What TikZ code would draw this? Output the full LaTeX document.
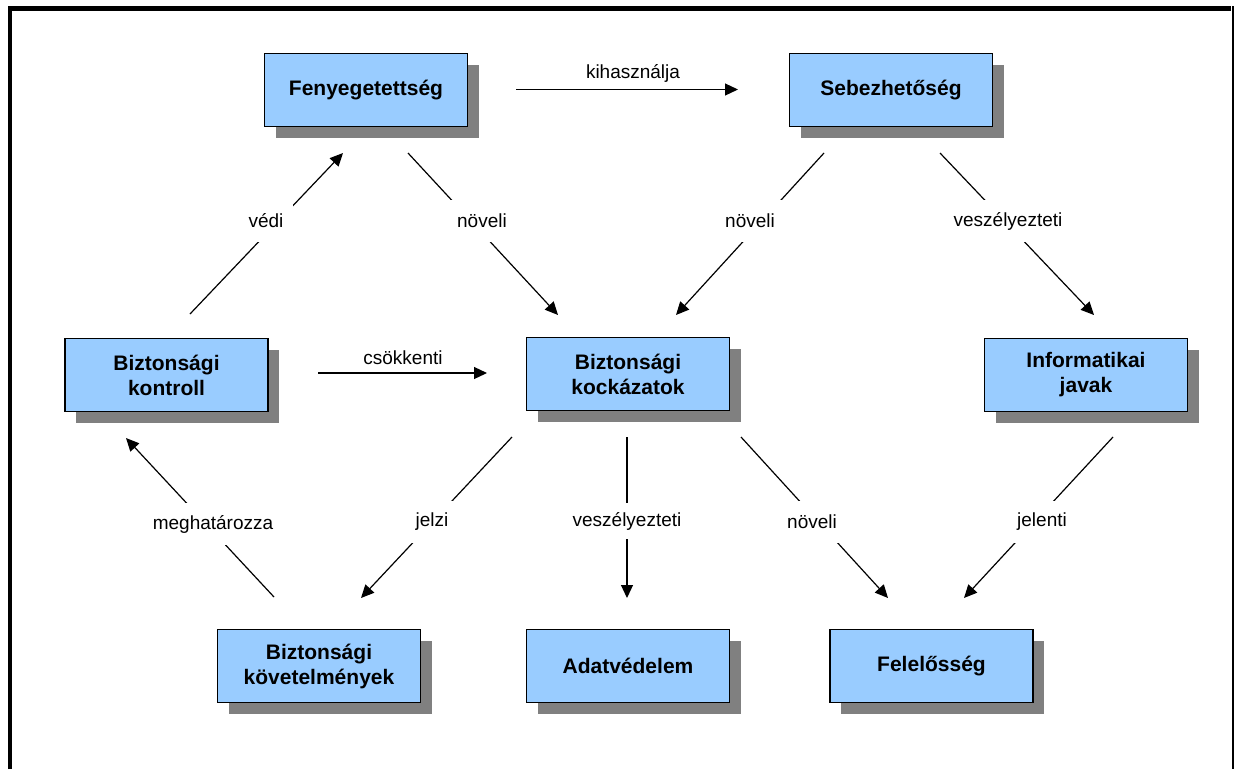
\documentclass[tikz,border=0pt]{standalone}
\usepackage{fontspec}
\setmainfont{Liberation Sans}
\usetikzlibrary{arrows.meta,shadows}
\definecolor{boxblue}{HTML}{99CCFF}
\definecolor{shadowgray}{HTML}{808080}
\tikzset{
  box/.style={draw=black, line width=1.2pt, fill=boxblue, minimum width=203pt, minimum height=73pt,
    inner sep=0pt, align=center, font=\fontsize{21}{25}\selectfont\bfseries,
    drop shadow={shadow xshift=11pt, shadow yshift=-11pt, fill=shadowgray, opacity=1}},
  conn/.style={line width=1.2pt, -{Triangle[length=13pt,width=12pt]}},
  lbl/.style={fill=white, inner xsep=10pt, inner ysep=0pt, minimum height=42pt, font=\fontsize{19}{23}\selectfont},
  toplbl/.style={inner sep=0pt, font=\fontsize{19}{23}\selectfont},
}
\begin{document}
\begin{tikzpicture}[x=1pt,y=-1pt]
\useasboundingbox (0,0) rectangle (1234,769);
% frame
\draw[line width=4.5pt] (10,769) -- (10,8.5) -- (1231,8.5);
\draw[line width=2pt] (1233,6.25) -- (1233,769);
% boxes
\node[box] (F) at (366,90) {Fenyegetettség};
\node[box] (S) at (891,90) {Sebezhetőség};
\node[box] (BK) at (166.5,375) {Biztonsági\\kontroll};
\node[box] (BR) at (628,374) {Biztonsági\\kockázatok};
\node[box] (IJ) at (1086,375) {Informatikai\\javak};
\node[box] (BV) at (319,666) {Biztonsági\\követelmények};
\node[box] (A) at (628,666) {Adatvédelem};
\node[box] (FL) at (931.5,666) {Felelősség};
% connector end points
\coordinate (k1) at (516,89.5);  \coordinate (k2) at (738,89.5);
\coordinate (v1) at (190,314);   \coordinate (v2) at (343,153);
\coordinate (n1) at (408,153);   \coordinate (n2) at (558,315);
\coordinate (m1) at (824,153);   \coordinate (m2) at (676,315);
\coordinate (z1) at (940,153);   \coordinate (z2) at (1094,315);
\coordinate (c1) at (318,373);   \coordinate (c2) at (487,373);
\coordinate (h1) at (274,597);   \coordinate (h2) at (126,438);
\coordinate (j1) at (512,437);   \coordinate (j2) at (361,598);
\coordinate (w1) at (627,437);   \coordinate (w2) at (627,598);
\coordinate (b1) at (741,437);   \coordinate (b2) at (888,598);
\coordinate (e1) at (1113,437);  \coordinate (e2) at (964,598);
% connectors
\draw[conn] (k1) -- (k2);
\draw[conn] (v1) -- (v2);
\draw[conn] (n1) -- (n2);
\draw[conn] (m1) -- (m2);
\draw[conn] (z1) -- (z2);
\draw[conn] (c1) -- (c2);
\draw[conn] (h1) -- (h2);
\draw[conn] (j1) -- (j2);
\draw[conn] (w1) -- (w2);
\draw[conn] (b1) -- (b2);
\draw[conn] (e1) -- (e2);
% labels
\node[toplbl] (lk) at (633,73) {kihasználja};
\node[toplbl] (lc) at (403,358) {csökkenti};
\node[lbl] (lv) at (266,221) {védi};
\node[lbl] (ln) at (482,221) {növeli};
\node[lbl] (lm) at (750,221) {növeli};
\node[lbl] (lz) at (1008,221) {veszélyezteti};
\node[lbl] (lh) at (213,524) {meghatározza};
\node[lbl] (lj) at (432,522) {jelzi};
\node[lbl, minimum height=36pt] (lw) at (627,521) {veszélyezteti};
\node[lbl] (lb) at (812,522) {növeli};
\node[lbl] (le) at (1042,522) {jelenti};
\end{tikzpicture}
\end{document}
